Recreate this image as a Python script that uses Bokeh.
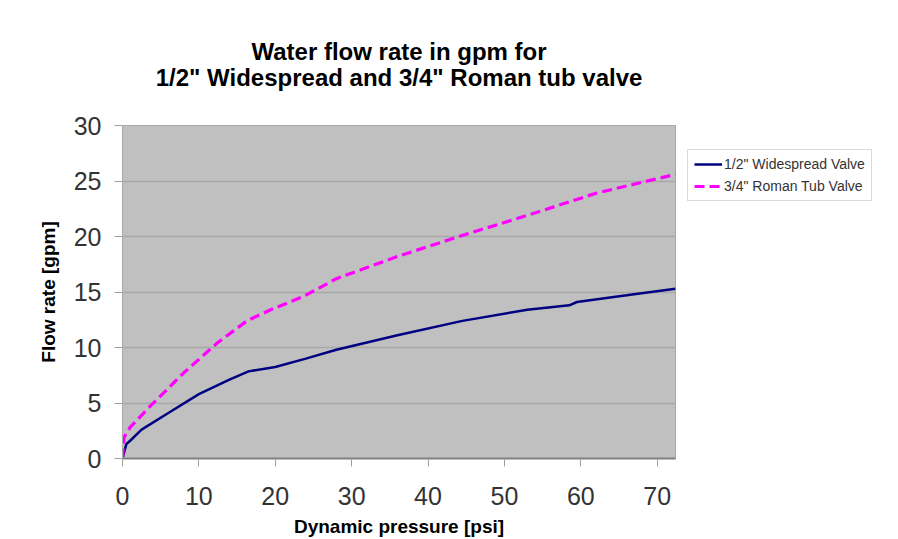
from bokeh.plotting import figure
from bokeh.models import Range1d, Legend, LegendItem
from bokeh.layouts import column, row
from bokeh.core.properties import value
from bokeh.embed import file_html
from bokeh.resources import INLINE

# 1/2" Widespread Valve
pressure_half = [0, 0.5, 1, 2.5, 6, 10, 14, 16.5, 20, 24, 28, 36, 44.5, 53, 58.5, 59.5, 66, 72.4]
flow_half = [0, 1.3, 1.6, 2.6, 4.1, 5.8, 7.1, 7.85, 8.25, 9.0, 9.8, 11.1, 12.4, 13.4, 13.8, 14.1, 14.7, 15.3]

# 3/4" Roman Tub Valve
pressure_roman = [0, 0.2, 1, 3.6, 8, 12.4, 16.3, 19.4, 23.7, 28, 36, 44.5, 53, 62, 72.4]
flow_roman = [0, 1.9, 2.8, 4.7, 7.7, 10.4, 12.4, 13.4, 14.6, 16.2, 18.2, 20.1, 21.9, 23.9, 25.6]

x_ticks = [0, 10, 20, 30, 40, 50, 60, 70]
y_ticks = [0, 5, 10, 15, 20, 25, 30]

title_lines = ["Water flow rate in gpm for", "1/2\" Widespread and 3/4\" Roman tub valve"]
x_label = "Dynamic pressure [psi]"
y_label = "Flow rate [gpm]"
series_labels = ["1/2\" Widespread Valve", "3/4\" Roman Tub Valve"]

FONT = "Liberation Sans"
BLUE = "#000080"
PINK = "#FF00FF"
DASH = "10 5"

# ---------- title strip (pixel-space figure) ----------
TOP_H = 109
top = figure(width=898, height=TOP_H, output_backend="svg", toolbar_location=None,
             x_range=Range1d(0, 898), y_range=Range1d(0, TOP_H), min_border=0,
             x_axis_location=None, y_axis_location=None, outline_line_color=None,
             background_fill_color="white", border_fill_color="white")
top.title = None
top.grid.visible = False
top.text(x=[398.5, 398.5], y=[TOP_H - 51, TOP_H - 77], text=title_lines,
         text_align="center", text_baseline="alphabetic", text_font=value(FONT),
         text_font_size="24px", text_font_style="bold", text_color="black")

# ---------- main chart ----------
p = figure(width=676, height=430, output_backend="svg", toolbar_location=None,
           x_range=Range1d(0, 72.4), y_range=Range1d(0, 30),
           min_border_left=122, min_border_right=1, min_border_top=16,
           min_border_bottom=80, background_fill_color="#C0C0C0",
           border_fill_color="white", outline_line_color="#A8A8A8")
p.title = None

for ax in (p.xaxis[0], p.yaxis[0]):
    ax.major_tick_in = 0
    ax.major_tick_out = 8
    ax.minor_tick_line_color = None
    ax.major_tick_line_color = "#A0A0A0"
    ax.major_label_text_font = FONT
    ax.major_label_text_font_size = "25px"
    ax.major_label_text_color = "#333333"
    ax.axis_label_text_font = FONT
    ax.axis_label_text_font_size = "19px"
    ax.axis_label_text_font_style = "bold"
    ax.axis_label_text_color = "black"

p.xaxis.ticker = x_ticks
p.yaxis.ticker = y_ticks
p.xaxis.axis_label = x_label
p.yaxis.axis_label = y_label
p.xaxis.axis_line_color = "#808080"
p.xaxis.axis_line_width = 2
p.yaxis.axis_line_color = "#A8A8A8"
p.xaxis.major_label_standoff = 20
p.yaxis.major_label_standoff = 13
p.xaxis.axis_label_standoff = 8
p.yaxis.axis_label_standoff = 12

p.xgrid.visible = False
p.ygrid.grid_line_color = "#A8A8A8"
p.ygrid.grid_line_width = 1.5

p.line(pressure_half, flow_half, line_color=BLUE, line_width=2.5)
p.line(pressure_roman, flow_roman, line_color=PINK, line_width=3.2, line_dash=DASH)

# ---------- legend strip (its frame is aligned with the main frame) ----------
# ranges chosen so the series themselves stay out of view; only the legend shows
leg = figure(width=222, height=430, output_backend="svg", toolbar_location=None,
             x_range=Range1d(1000, 1001), y_range=Range1d(1000, 1001), min_border=0,
             x_axis_location=None, y_axis_location=None, outline_line_color=None,
             background_fill_color="white", border_fill_color="white")
leg.title = None
leg.grid.visible = False
g1 = leg.line(pressure_half, flow_half, line_color=BLUE, line_width=2.5)
g2 = leg.line(pressure_roman, flow_roman, line_color=PINK, line_width=3.2, line_dash=DASH)

legend = Legend(items=[LegendItem(label=series_labels[0], renderers=[g1]),
                       LegendItem(label=series_labels[1], renderers=[g2])],
                location=(11, 257), label_text_font=FONT, label_text_font_size="14px",
                label_text_color="#333333", glyph_width=28, glyph_height=16,
                label_standoff=2, spacing=6, padding=6, margin=0,
                border_line_color="#B8B8B8", background_fill_color="white")
leg.add_layout(legend, "center")

layout = column(top, row(p, leg, spacing=0), spacing=0)
open("out.html", "w").write(file_html(layout, INLINE))
